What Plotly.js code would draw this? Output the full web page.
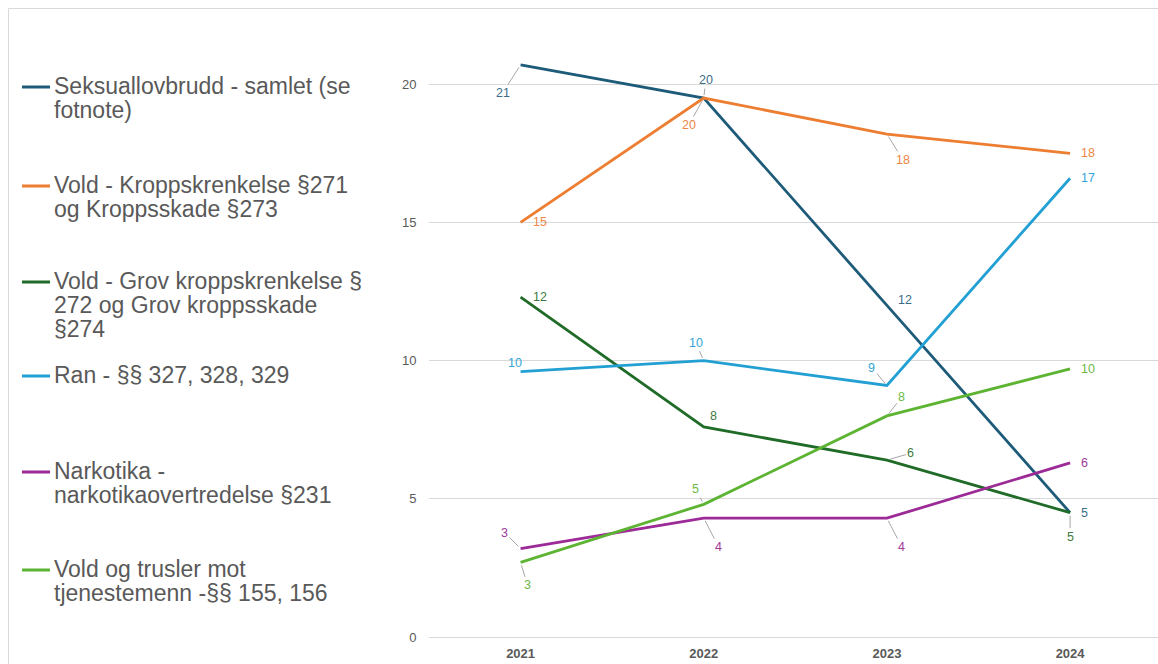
<!DOCTYPE html>
<html>
<head>
<meta charset="utf-8">
<script src="https://cdn.plot.ly/plotly-3.0.1.min.js"></script>
<style>
  html, body { margin: 0; padding: 0; background: #ffffff; }
  #chart { width: 1158px; height: 664px; }
</style>
</head>
<body>
<div id="chart"></div>
<script>
// ---------- DATA ----------
const years = ['2021', '2022', '2023', '2024'];

const seksuallovbrudd = [20.7, 19.5, 12.0, 4.5];
const kroppskrenkelse = [15.0, 19.5, 18.2, 17.5];
const grovKroppskrenkelse = [12.3, 7.6, 6.4, 4.5];
const ran = [9.6, 10.0, 9.1, 16.6];
const narkotika = [3.2, 4.3, 4.3, 6.3];
const tjenestemenn = [2.7, 4.8, 8.0, 9.7];

const seriesLines = [
  ['Seksuallovbrudd - samlet (se', 'fotnote)'],
  ['Vold - Kroppskrenkelse §271', 'og Kroppsskade §273'],
  ['Vold - Grov kroppskrenkelse §', '272 og Grov kroppsskade', '§274'],
  ['Ran - §§ 327, 328, 329'],
  ['Narkotika -', 'narkotikaovertredelse §231'],
  ['Vold og trusler mot', 'tjenestemenn -§§ 155, 156']
];

const yTicks = [0, 5, 10, 15, 20];

// ---------- STYLE ----------
const seriesValues = [seksuallovbrudd, kroppskrenkelse, grovKroppskrenkelse, ran, narkotika, tjenestemenn];
const lineColors = ['#1d5b79', '#ed7d31', '#1f6b27', '#22a0d4', '#9c2a97', '#5db432'];
const labelColors = ['#3b6d86', '#ee8645', '#3c7a40', '#33a5d6', '#a03a9b', '#6cba45'];

// label offsets in px [dx, dy(down), leader line?]
const labelOffsets = [
  [[-18, 28, true], [2, -18, true], [18, -5, false], [14, 0, false]],
  [[19, 0, false], [-15, 27, true], [16, 26, true], [18, 0, false]],
  [[19, 0, false], [10, -11, false], [24, -7, true], [0, 24, true]],
  [[-6, -9, false], [-8, -18, true], [-15, -18, true], [18, 0, false]],
  [[-16, -16, true], [15, 29, true], [15, 29, true], [14, 0, false]],
  [[7, 23, true], [-8, -15, true], [15, -19, true], [18, 0, false]]
];

const legendFirstLineY = [86, 185, 281, 375, 471, 569];
const legendLineGap = 24;

const W = 1158, H = 664, ML = 429, MR = 0, MT = 29, MB = 27;
const PW = W - ML - MR, PH = H - MT - MB;
const px2x = p => (p - ML) / PW;
const py2y = p => (H - MB - p) / PH;

const FONT = 'Liberation Sans, Arial, sans-serif';
const TEXT_GRAY = '#595959';
const GRID = '#d9d9d9';

// ---------- TRACES ----------
const traces = seriesValues.map((vals, i) => ({
  type: 'scatter',
  mode: 'lines',
  name: seriesLines[i].join(' '),
  x: years,
  y: vals,
  line: { color: lineColors[i], width: 2.8 },
  hoverinfo: 'skip',
  showlegend: false
}));

// ---------- ANNOTATIONS ----------
const annotations = [];
seriesValues.forEach((vals, i) => {
  vals.forEach((v, j) => {
    const [dx, dy, leader] = labelOffsets[i][j];
    annotations.push({
      x: j, y: v, xref: 'x', yref: 'y',
      text: String(Math.round(v)),
      showarrow: true,
      ax: dx, ay: dy,
      arrowhead: 0,
      arrowwidth: 1,
      arrowcolor: leader ? '#a6a6a6' : 'rgba(0,0,0,0)',
      standoff: 3,
      font: { family: FONT, size: 12.5, color: labelColors[i] }
    });
  });
});

// legend text (one annotation per line)
const shapes = [];
seriesLines.forEach((lines, i) => {
  lines.forEach((ln, k) => {
    annotations.push({
      xref: 'paper', yref: 'paper',
      x: px2x(52), y: py2y(legendFirstLineY[i] + k * legendLineGap),
      xanchor: 'left', yanchor: 'middle',
      text: ln, showarrow: false,
      font: { family: FONT, size: 23, color: TEXT_GRAY }
    });
  });
  shapes.push({
    type: 'line', xref: 'paper', yref: 'paper',
    x0: px2x(22), x1: px2x(50),
    y0: py2y(legendFirstLineY[i] + 1), y1: py2y(legendFirstLineY[i] + 1),
    line: { color: lineColors[i], width: 3 }
  });
});

// outer frame (top and left)
shapes.push({
  type: 'line', xref: 'paper', yref: 'paper',
  x0: px2x(8.5), x1: px2x(1200), y0: py2y(8.5), y1: py2y(8.5),
  line: { color: GRID, width: 1 }
});
shapes.push({
  type: 'line', xref: 'paper', yref: 'paper',
  x0: px2x(8.5), x1: px2x(8.5), y0: py2y(8.5), y1: py2y(700),
  line: { color: GRID, width: 1 }
});

const layout = {
  width: W, height: H,
  margin: { l: ML, r: MR, t: MT, b: MB, pad: 0 },
  paper_bgcolor: '#ffffff',
  plot_bgcolor: '#ffffff',
  showlegend: false,
  xaxis: {
    type: 'category',
    range: [-0.5, 3.48],
    showgrid: false,
    zeroline: false,
    showline: true,
    linecolor: GRID,
    linewidth: 1,
    ticks: 'outside',
    ticklen: 4,
    tickcolor: 'rgba(0,0,0,0)',
    tickfont: { family: FONT, size: 13, color: TEXT_GRAY, weight: 'bold' },
    fixedrange: true
  },
  yaxis: {
    range: [0, 22],
    tickvals: yTicks,
    ticktext: yTicks.map(String),
    showgrid: true,
    gridcolor: GRID,
    gridwidth: 1,
    zeroline: false,
    showline: false,
    ticks: 'outside',
    ticklen: 9,
    tickcolor: 'rgba(0,0,0,0)',
    tickfont: { family: FONT, size: 13, color: TEXT_GRAY },
    fixedrange: true
  },
  annotations: annotations,
  shapes: shapes
};

Plotly.newPlot('chart', traces, layout, { displayModeBar: false, staticPlot: true });
</script>
</body>
</html>
